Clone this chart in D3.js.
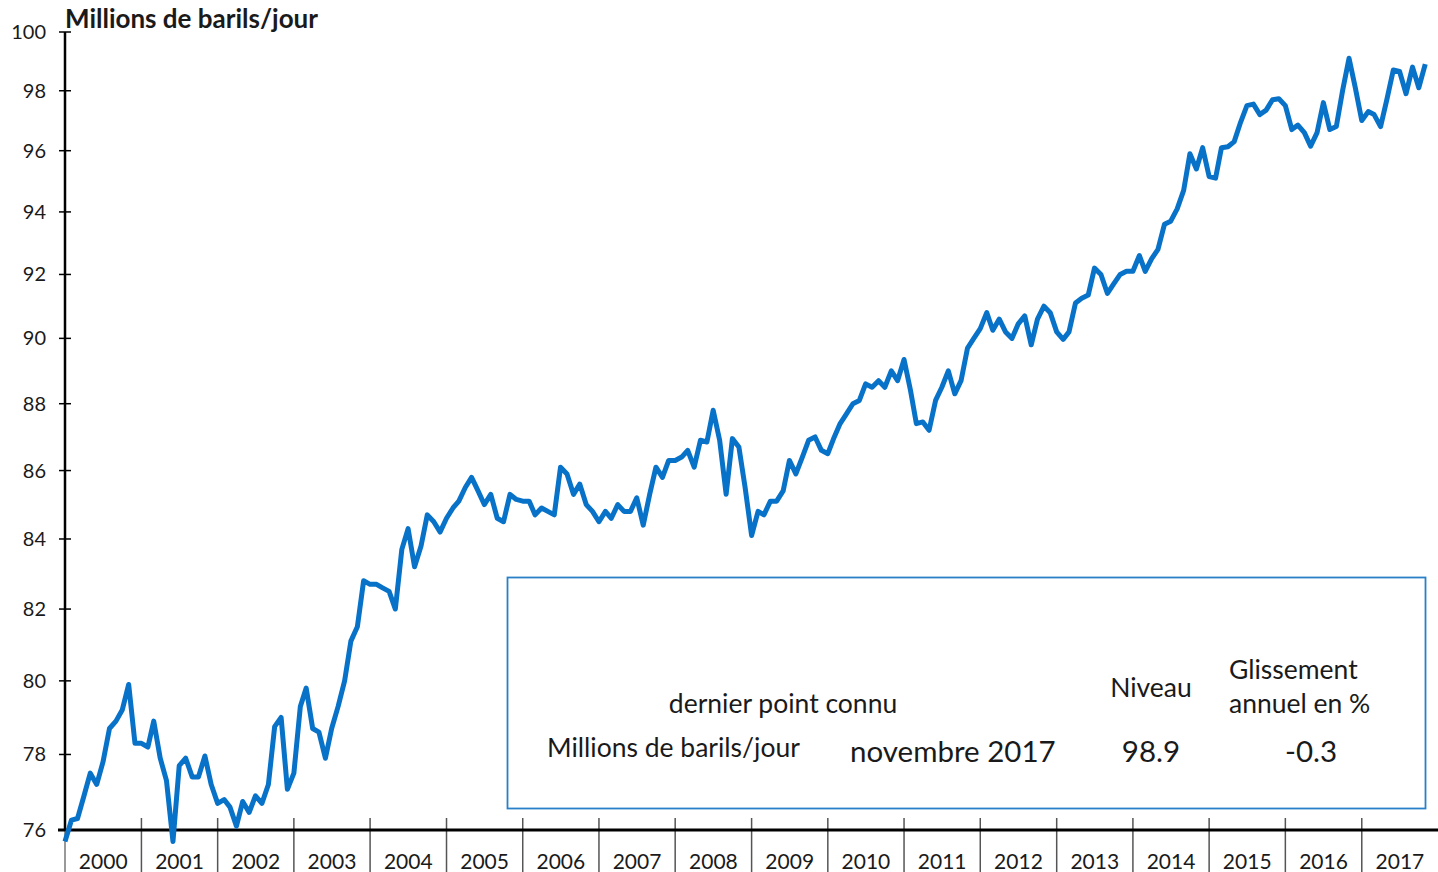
<!DOCTYPE html>
<html>
  <head>
    <meta charset="utf-8">
    <script src="https://d3js.org/d3.v7.min.js"></script>
    <style>
      body { margin: 0; background: #fff; }
      text { font-family: Lato, "Open Sans", sans-serif; fill: #1a1a1a; }
    </style>
  </head>
  <body>
    <div id="chart"></div>
    <script>
      // monthly world oil demand, Millions de barils/jour, one array per year
      var y2000 = [75.7, 76.26, 76.3, 76.9, 77.5, 77.2, 77.8, 78.7, 78.9, 79.2, 79.9, 78.3];
      var y2001 = [78.3, 78.2, 78.9, 77.9, 77.3, 75.7, 77.7, 77.9, 77.4, 77.4, 77.96, 77.2];
      var y2002 = [76.7, 76.8, 76.6, 76.1, 76.75, 76.46, 76.9, 76.7, 77.2, 78.75, 79.0, 77.07];
      var y2003 = [77.5, 79.3, 79.8, 78.7, 78.6, 77.9, 78.7, 79.3, 80.0, 81.1, 81.5, 82.8];
      var y2004 = [82.7, 82.7, 82.6, 82.5, 82.0, 83.7, 84.3, 83.2, 83.8, 84.7, 84.5, 84.2];
      var y2005 = [84.6, 84.9, 85.1, 85.5, 85.8, 85.4, 85.0, 85.3, 84.6, 84.5, 85.3, 85.15];
      var y2006 = [85.1, 85.1, 84.7, 84.9, 84.8, 84.7, 86.1, 85.9, 85.3, 85.6, 85.0, 84.8];
      var y2007 = [84.5, 84.8, 84.6, 85.0, 84.8, 84.8, 85.2, 84.4, 85.3, 86.1, 85.8, 86.3];
      var y2008 = [86.3, 86.4, 86.6, 86.1, 86.9, 86.85, 87.8, 86.9, 85.3, 86.95, 86.7, 85.5];
      var y2009 = [84.1, 84.8, 84.7, 85.1, 85.1, 85.4, 86.3, 85.9, 86.4, 86.9, 87.0, 86.6];
      var y2010 = [86.5, 87.0, 87.4, 87.7, 88.0, 88.1, 88.6, 88.5, 88.7, 88.5, 89.0, 88.7];
      var y2011 = [89.35, 88.4, 87.4, 87.45, 87.2, 88.1, 88.5, 89.0, 88.3, 88.7, 89.7, 90.0];
      var y2012 = [90.3, 90.8, 90.25, 90.6, 90.2, 90.0, 90.45, 90.7, 89.8, 90.6, 91.0, 90.8];
      var y2013 = [90.2, 89.97, 90.2, 91.1, 91.25, 91.35, 92.2, 92.0, 91.4, 91.7, 92.0, 92.1];
      var y2014 = [92.1, 92.6, 92.1, 92.5, 92.8, 93.6, 93.7, 94.1, 94.7, 95.9, 95.4, 96.1];
      var y2015 = [95.15, 95.1, 96.1, 96.13, 96.3, 96.95, 97.5, 97.55, 97.2, 97.35, 97.7, 97.73];
      var y2016 = [97.5, 96.7, 96.85, 96.6, 96.15, 96.6, 97.6, 96.7, 96.8, 98.0, 99.1, 98.1];
      var y2017 = [97.0, 97.3, 97.2, 96.8, 97.7, 98.7, 98.65, 97.9, 98.8, 98.1, 98.9];

      var years = d3.range(2000, 2018);
      var yTicks = [76, 78, 80, 82, 84, 86, 88, 90, 92, 94, 96, 98, 100];

      var unitLabel = "Millions de barils/jour";
      var lastLabel = "dernier point connu";
      var lastMonth = "novembre 2017";
      var lastLevel = "98.9";
      var lastChange = "-0.3";

      var series = [].concat(y2000, y2001, y2002, y2003, y2004, y2005, y2006, y2007, y2008,
                             y2009, y2010, y2011, y2012, y2013, y2014, y2015, y2016, y2017);
      var data = series.map(function(v, i) {
        return { date: new Date(2000, i, 1), value: v };
      });

      var width = 1438, height = 872;
      var svg = d3.select("#chart").append("svg")
        .attr("width", width).attr("height", height);

      var x = d3.scaleTime()
        .domain([new Date(2000, 0, 1), new Date(2018, 0, 1)])
        .range([65, 1438]);
      var y = d3.scaleLog()
        .domain([76, 100])
        .range([830, 32]);

      // y axis
      svg.append("line")
        .attr("x1", 65).attr("x2", 65)
        .attr("y1", y(100)).attr("y2", y(76))
        .attr("stroke", "#000").attr("stroke-width", 2.5);
      svg.append("line")
        .attr("x1", 65).attr("x2", 65)
        .attr("y1", y(76)).attr("y2", height)
        .attr("stroke", "#777").attr("stroke-width", 1.5);

      svg.selectAll(".ytick").data(yTicks).enter().append("line")
        .attr("class", "ytick")
        .attr("x1", 59).attr("x2", 71)
        .attr("y1", function(d) { return y(d); })
        .attr("y2", function(d) { return y(d); })
        .attr("stroke", "#000").attr("stroke-width", 1.5);

      svg.selectAll(".ylab").data(yTicks).enter().append("text")
        .attr("class", "ylab")
        .attr("x", 46)
        .attr("y", function(d) { return y(d) + 7; })
        .attr("text-anchor", "end")
        .attr("font-size", "20px")
        .text(function(d) { return d; });

      // x axis
      svg.selectAll(".xtick").data(years.slice(1)).enter().append("line")
        .attr("class", "xtick")
        .attr("x1", function(d) { return x(new Date(d, 0, 1)); })
        .attr("x2", function(d) { return x(new Date(d, 0, 1)); })
        .attr("y1", 818).attr("y2", height)
        .attr("stroke", "#555").attr("stroke-width", 1.5);

      svg.append("line")
        .attr("x1", 58).attr("x2", width)
        .attr("y1", y(76)).attr("y2", y(76))
        .attr("stroke", "#000").attr("stroke-width", 3);

      svg.selectAll(".xlab").data(years).enter().append("text")
        .attr("class", "xlab")
        .attr("x", function(d) { return (x(new Date(d, 0, 1)) + x(new Date(d + 1, 0, 1))) / 2; })
        .attr("y", 869)
        .attr("text-anchor", "middle")
        .attr("font-size", "21px")
        .text(function(d) { return d; });

      svg.append("text")
        .attr("x", 65).attr("y", 28)
        .attr("font-size", "26px")
        .attr("font-weight", "bold")
        .text(unitLabel);

      // the series
      var line = d3.line()
        .x(function(d) { return x(d.date); })
        .y(function(d) { return y(d.value); });

      svg.append("path")
        .datum(data)
        .attr("d", line)
        .attr("fill", "none")
        .attr("stroke", "#0872c8")
        .attr("stroke-width", 5)
        .attr("stroke-linejoin", "round");

      // last known point box
      var box = svg.append("g");
      box.append("rect")
        .attr("x", 507.5).attr("y", 577.5)
        .attr("width", 918).attr("height", 231)
        .attr("fill", "#fff")
        .attr("stroke", "#2a80c8").attr("stroke-width", 1.8);

      box.append("text").attr("x", 783).attr("y", 713)
        .attr("text-anchor", "middle").attr("font-size", "26.5px").text(lastLabel);
      box.append("text").attr("x", 1151).attr("y", 697)
        .attr("text-anchor", "middle").attr("font-size", "26.5px").text("Niveau");
      box.append("text").attr("x", 1229).attr("y", 679)
        .attr("font-size", "26.5px").text("Glissement");
      box.append("text").attr("x", 1229).attr("y", 713)
        .attr("font-size", "26.5px").text("annuel en %");
      box.append("text").attr("x", 547).attr("y", 757)
        .attr("font-size", "26.5px").text(unitLabel);
      box.append("text").attr("x", 850).attr("y", 762)
        .attr("font-size", "29.5px").text(lastMonth);
      box.append("text").attr("x", 1151).attr("y", 762)
        .attr("text-anchor", "middle").attr("font-size", "29.5px").text(lastLevel);
      box.append("text").attr("x", 1311).attr("y", 762)
        .attr("text-anchor", "middle").attr("font-size", "29.5px").text(lastChange);
    </script>
  </body>
</html>
